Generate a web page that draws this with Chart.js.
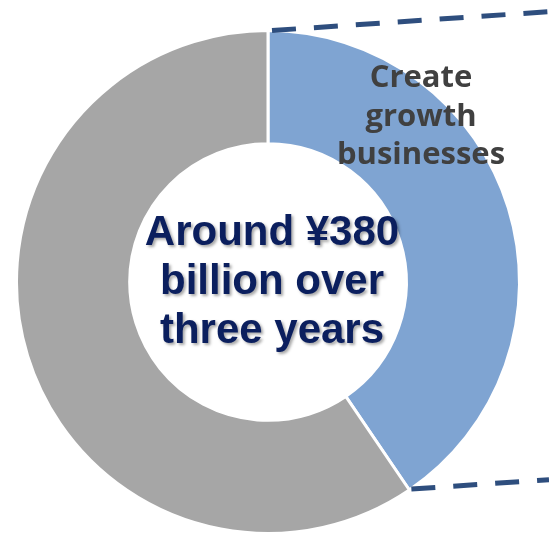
<!DOCTYPE html>
<html>
<head>
<meta charset="utf-8">
<script src="https://cdn.jsdelivr.net/npm/chart.js@4/dist/chart.umd.min.js"></script>
<style>
  html, body { margin: 0; padding: 0; background: #ffffff; }
  #wrap { width: 549px; height: 535px; position: relative; }
</style>
</head>
<body>
<div id="wrap"><canvas id="chart" width="549" height="535"></canvas></div>
<script>
// Investment split (share of the three-year total, %)
const categories = ['Create growth businesses', ''];
const shares = [40.5, 59.5];
const sliceColors = ['#7FA4D2', '#A6A6A6'];

// Text shown in the ring's hole and on the highlighted slice
const centerLines = ['Around ¥380', 'billion over', 'three years'];
const sliceLabelLines = ['Create', 'growth', 'businesses'];

// Dashed guide lines leaving the highlighted slice towards the right edge
const guidePlugin = {
  id: 'guides',
  afterDatasetsDraw(chart) {
    const arc = chart.getDatasetMeta(0).data[0];
    const { x, y, outerRadius, startAngle, endAngle } = arc.getProps(['x', 'y', 'outerRadius', 'startAngle', 'endAngle'], true);
    const ctx = chart.ctx;
    const right = chart.width;
    const slope = -0.068;
    ctx.save();
    ctx.strokeStyle = '#2E4E7E';
    ctx.lineWidth = 5;
    ctx.setLineDash([24, 18]);
    ctx.lineCap = 'butt';
    [startAngle, endAngle].forEach((a, i) => {
      const sx = x + outerRadius * Math.cos(a) + (i === 0 ? 4 : 2);
      const sy = y + outerRadius * Math.sin(a) + (i === 0 ? 0 : -1);
      ctx.beginPath();
      ctx.moveTo(sx, sy);
      ctx.lineTo(right, sy + slope * (right - sx));
      ctx.stroke();
    });
    ctx.restore();
  }
};

// Text in the hole and on the highlighted slice
const textPlugin = {
  id: 'ringText',
  afterDatasetsDraw(chart) {
    const arc = chart.getDatasetMeta(0).data[0];
    const { x, y } = arc.getProps(['x', 'y'], true);
    const ctx = chart.ctx;
    ctx.save();
    ctx.textAlign = 'center';
    ctx.textBaseline = 'alphabetic';

    ctx.font = 'bold 42px "Liberation Sans", Arial, sans-serif';
    ctx.fillStyle = '#0B1F5E';
    ctx.shadowColor = 'rgba(0,0,0,0.35)';
    ctx.shadowBlur = 3;
    ctx.shadowOffsetX = 2;
    ctx.shadowOffsetY = 2;
    centerLines.forEach((t, i) => ctx.fillText(t, x + 4, y - 37 + i * 49));

    ctx.shadowColor = 'transparent';
    ctx.font = 'bold 31px "Open Sans", sans-serif';
    ctx.fillStyle = '#404040';
    sliceLabelLines.forEach((t, i) => ctx.fillText(t, x + 153, y - 195 + i * 38.5));
    ctx.restore();
  }
};

new Chart(document.getElementById('chart'), {
  type: 'doughnut',
  data: {
    labels: categories,
    datasets: [{
      data: shares,
      backgroundColor: sliceColors,
      borderColor: '#ffffff',
      borderWidth: 3,
      hoverOffset: 0
    }]
  },
  options: {
    responsive: false,
    animation: false,
    cutout: '55%',
    layout: { padding: { left: 13, right: 26, top: 29, bottom: -4 } },
    plugins: {
      legend: { display: false },
      tooltip: { enabled: false }
    }
  },
  plugins: [guidePlugin, textPlugin]
});
</script>
</body>
</html>
